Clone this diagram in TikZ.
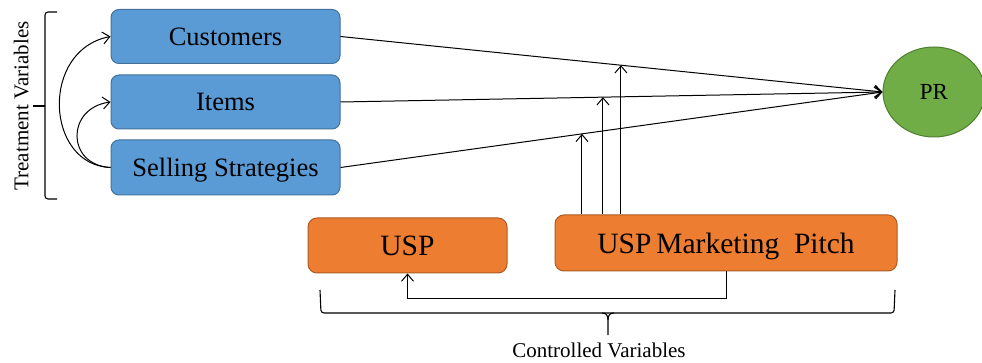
\documentclass[tikz,border=0pt]{standalone}
\usepackage{fontspec}
\setmainfont{Liberation Serif}
\usetikzlibrary{arrows.meta,shapes.geometric}
\definecolor{tvfill}{HTML}{5B9BD5}
\definecolor{tvdraw}{HTML}{41719C}
\definecolor{cvfill}{HTML}{ED7D31}
\definecolor{cvdraw}{HTML}{AE5A21}
\definecolor{prfill}{HTML}{70AD47}
\definecolor{prdraw}{HTML}{507E32}

\begin{document}
\begin{tikzpicture}[x=1pt,y=-1pt,
  tvbox/.style={draw=tvdraw, fill=tvfill, line width=1pt, rounded corners=8pt,
    minimum width=229pt, minimum height=54pt, inner sep=0pt,
    text depth=0pt, font=\fontsize{26.5}{30}\selectfont},
  cvbox/.style={draw=cvdraw, fill=cvfill, line width=1pt, rounded corners=9pt,
    minimum height=55pt, inner sep=0pt, text depth=0pt,
    font=\fontsize{29.5}{34}\selectfont},
  link/.style={line width=1pt, -{Straight Barb[length=7pt,width=12pt]}},
  bracket/.style={line width=1.1pt, rounded corners=3pt},
  caption/.style={inner sep=0pt, text depth=0pt, font=\fontsize{21}{25}\selectfont}]
\useasboundingbox (0,0) rectangle (982,363);

% treatment variables
\node[tvbox] (cust) at (225.5,36.5) {Customers};
\node[tvbox] (items) at (225.5,102) {Items};
\node[tvbox, minimum height=55pt] (sell) at (225.5,167.5) {Selling Strategies};

% outcome
\node[ellipse, draw=prdraw, fill=prfill, line width=1pt, minimum width=102pt,
  minimum height=90pt, inner sep=0pt, font=\fontsize{23}{27}\selectfont] (pr) at (934,92) {PR};

% controlled variables
\node[cvbox, minimum width=199pt] (usp) at (407.5,245.5) {USP};
\node[cvbox, minimum width=342pt, minimum height=56pt] (mp) at (726,243) {USP\,Marketing\enspace Pitch};

% group labels
\node[caption, rotate=90] (tvlabel) at (21,106) {Treatment Variables};
\node[caption] (cvlabel) at (599,350) {Controlled Variables};

% brackets
\draw[bracket] (57,12) -- (45,12) -- (45,199) -- (57,199);
\draw[line width=1.1pt] (45,106) -- (33,106);
\draw[bracket] (320,290) -- (321,313) -- (894,313) -- (895,290);
\draw[line width=1.1pt] (602,313) .. controls (606,313) and (608,315) .. (608,320) -- (608,335);
\draw[line width=1.1pt] (614,313) .. controls (610,313) and (608,315) .. (608,320);

% effects on PR
\draw[link] (cust.east) -- (pr.west);
\draw[link] (items.east) -- (pr.west);
\draw[link] (sell.east) -- (pr.west);

% links among treatment variables
\draw[link] (sell.west) .. controls (45,165) and (40,50) .. (cust.west);
\draw[link] (sell.west) .. controls (66,165) and (66,108) .. (items.west);

% moderating arrows from the marketing pitch onto the paths
\coordinate (m1) at (intersection of sell.east--pr.west and 582,0--582,400);
\coordinate (m2) at (intersection of items.east--pr.west and 603,0--603,400);
\coordinate (m3) at (intersection of cust.east--pr.west and 621,0--621,400);
\draw[link] (mp.north -| m1) -- (m1);
\draw[link] (mp.north -| m2) -- (m2);
\draw[link] (mp.north -| m3) -- (m3);

% marketing pitch to USP
\draw[link] (mp.south) -- ++(0,27) -| (usp.south);
\end{tikzpicture}
\end{document}
